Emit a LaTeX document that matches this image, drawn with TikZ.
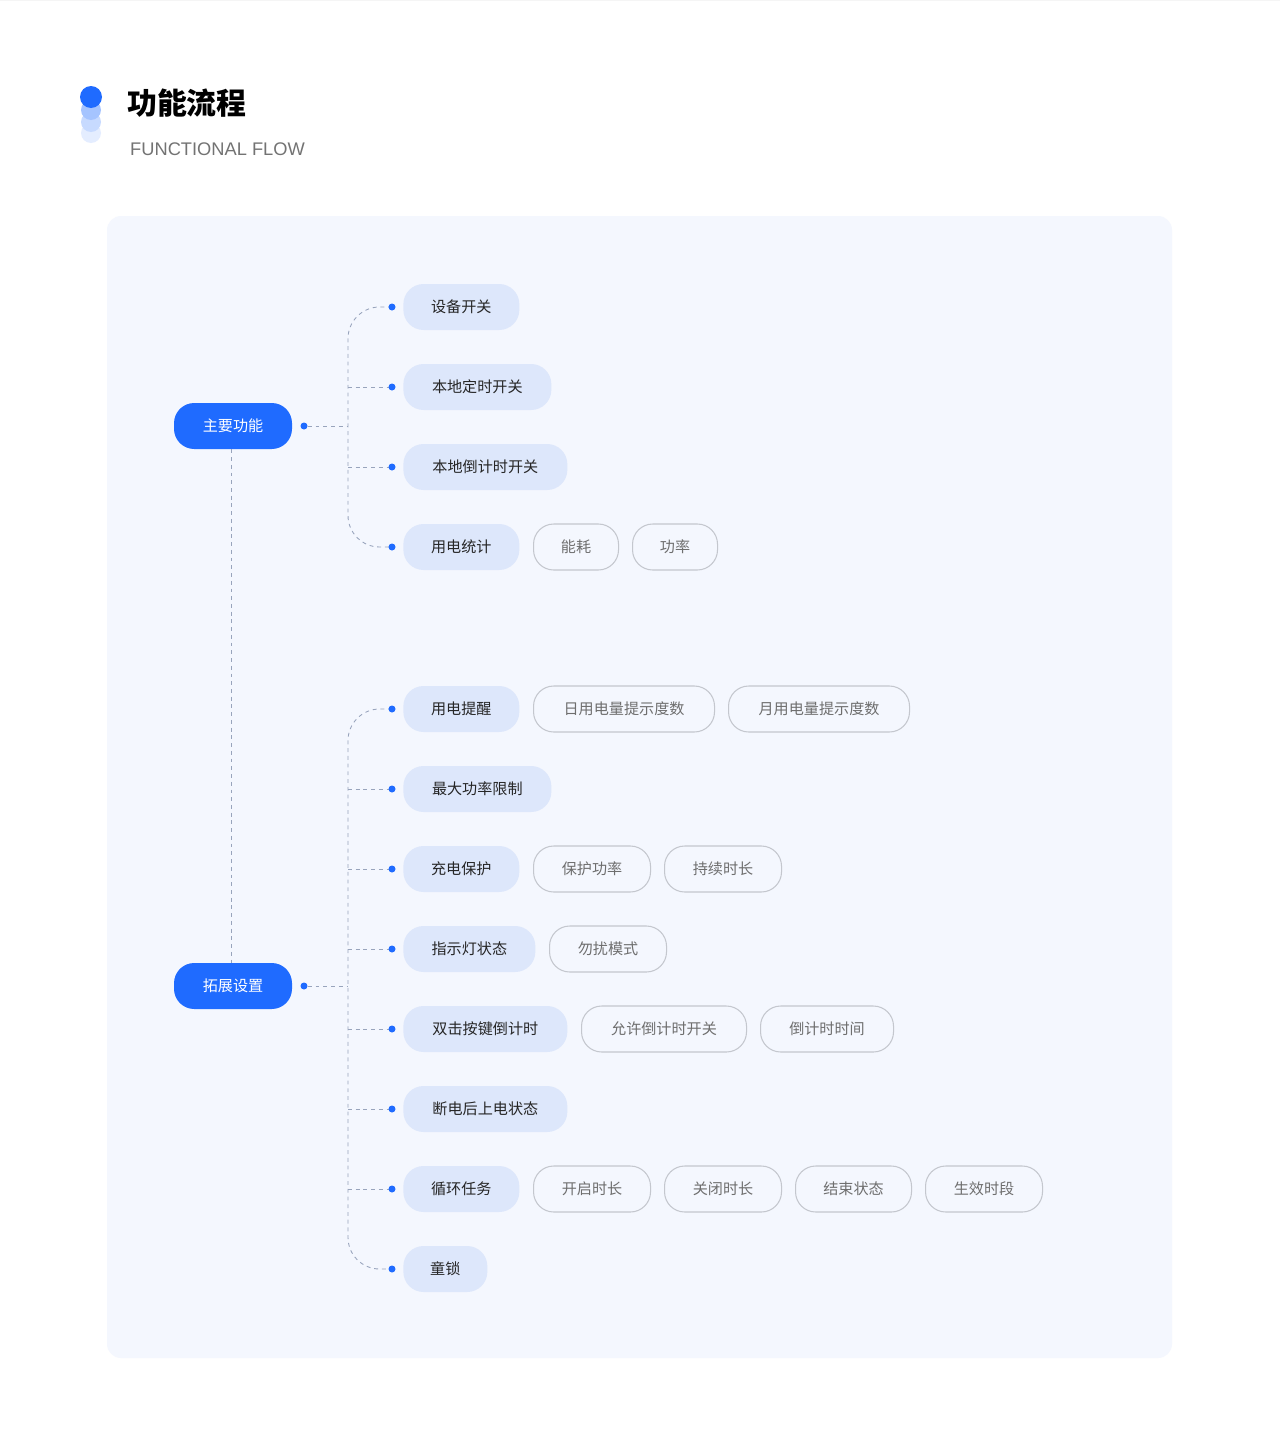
\documentclass[tikz,border=0pt]{standalone}
\usepackage{fontspec}
\setmainfont{Noto Sans CJK SC}
\usetikzlibrary{positioning}
\definecolor{brand}{HTML}{1F6BFF}
\definecolor{panel}{HTML}{F4F7FE}
\definecolor{subfill}{HTML}{DDE7FB}
\definecolor{wire}{HTML}{98A4BC}
\definecolor{leafline}{HTML}{C4C7CE}
\definecolor{leaftext}{HTML}{6E6E6E}
\tikzset{
  mainpill/.style={rounded corners=11.5pt,fill=brand,text=white,minimum width=118*0.02cm,minimum height=46*0.02cm,font=\fontsize{8.6}{10}\selectfont,inner sep=0pt},
  subpill/.style={rounded corners=11.5pt,fill=subfill,text=black!85,minimum height=46*0.02cm,font=\fontsize{8.6}{10}\selectfont,inner sep=0pt,anchor=west},
  leafpill/.style={rounded corners=11.5pt,draw=leafline,line width=0.6pt,text=leaftext,minimum height=46*0.02cm,font=\fontsize{8.6}{10}\selectfont,inner sep=0pt,anchor=west},
  wireline/.style={wire,dashed,dash pattern=on 2.2pt off 2.2pt,line width=0.5pt},
  dot/.style={circle,fill=brand,inner sep=0pt,minimum size=7*0.02cm}
}
\begin{document}
\begin{tikzpicture}[x=0.02cm,y=-0.02cm]
\useasboundingbox (0,0) rectangle (1280,1440);
\fill[white] (0,0) rectangle (1280,1440);
\draw[black!4,line width=0.3pt,step=16*0.02cm] (0,0) grid (1280,-1440);
% panel
\fill[panel,rounded corners=8pt] (107,216) rectangle (1172,1358);
% header
\fill[brand!12] (91,133) circle (10);
\fill[brand!25] (91,122) circle (10);
\fill[brand!40] (91,110) circle (10);
\fill[brand] (91,97) circle (11);
\node[anchor=west,font=\fontsize{17}{20}\selectfont\bfseries] (title) at (121,103) {功能流程};
\node[anchor=west,text=black!55,font=\fontsize{10.4}{12}\selectfont\fontspec{Liberation Sans}] (subtitle) at (124,149) {FUNCTIONAL FLOW};
% main nodes
\node[mainpill] (core) at (233,426) {主要功能};
\node[mainpill] (ext) at (233,986) {拓展设置};
\draw[wireline] (core.south -| 231,0) -- (ext.north -| 231,0);
% core branch
\foreach \n/\t/\w/\y in {c1/设备开关/116/307,c2/本地定时开关/148/387,c3/本地倒计时开关/164/467,c4/用电统计/116/547}
  \node[subpill,minimum width=\w*0.02cm] (\n) at (403,\y) {\t};
\node[leafpill,minimum width=85*0.02cm] (c4a) at (533,547) {能耗};
\node[leafpill,minimum width=85*0.02cm] (c4b) at (632,547) {功率};
\node[dot] (coredot) at (304,426) {};
\draw[wireline] (coredot) -- (348,426);
\draw[wireline,rounded corners=18pt] (392,307) -- (348,307) -- (348,547) -- (392,547);
\foreach \y in {387,467} \draw[wireline] (348,\y) -- (392,\y);
\foreach \y in {307,387,467,547} \node[dot] at (392,\y) {};
% extension branch
\foreach \n/\t/\w/\y in {e1/用电提醒/116/709,e2/最大功率限制/148/789,e3/充电保护/116/869,e4/指示灯状态/132/949,e5/双击按键倒计时/164/1029,e6/断电后上电状态/164/1109,e7/循环任务/116/1189,e8/童锁/84/1269}
  \node[subpill,minimum width=\w*0.02cm] (\n) at (403,\y) {\t};
\foreach \n/\t/\x/\w/\y in {e1a/日用电量提示度数/533/181/709,e1b/月用电量提示度数/728/181/709,
  e3a/保护功率/533/117/869,e3b/持续时长/664/117/869,e4a/勿扰模式/549/117/949,
  e5a/允许倒计时开关/581/165/1029,e5b/倒计时时间/760/133/1029,
  e7a/开启时长/533/117/1189,e7b/关闭时长/664/117/1189,e7c/结束状态/795/116/1189,e7d/生效时段/925/117/1189}
  \node[leafpill,minimum width=\w*0.02cm] (\n) at (\x,\y) {\t};
\node[dot] (extdot) at (304,986) {};
\draw[wireline] (extdot) -- (348,986);
\draw[wireline,rounded corners=18pt] (392,709) -- (348,709) -- (348,1269) -- (392,1269);
\foreach \y in {789,869,949,1029,1109,1189} \draw[wireline] (348,\y) -- (392,\y);
\foreach \y in {709,789,869,949,1029,1109,1189,1269} \node[dot] at (392,\y) {};
\end{tikzpicture}
\end{document}
